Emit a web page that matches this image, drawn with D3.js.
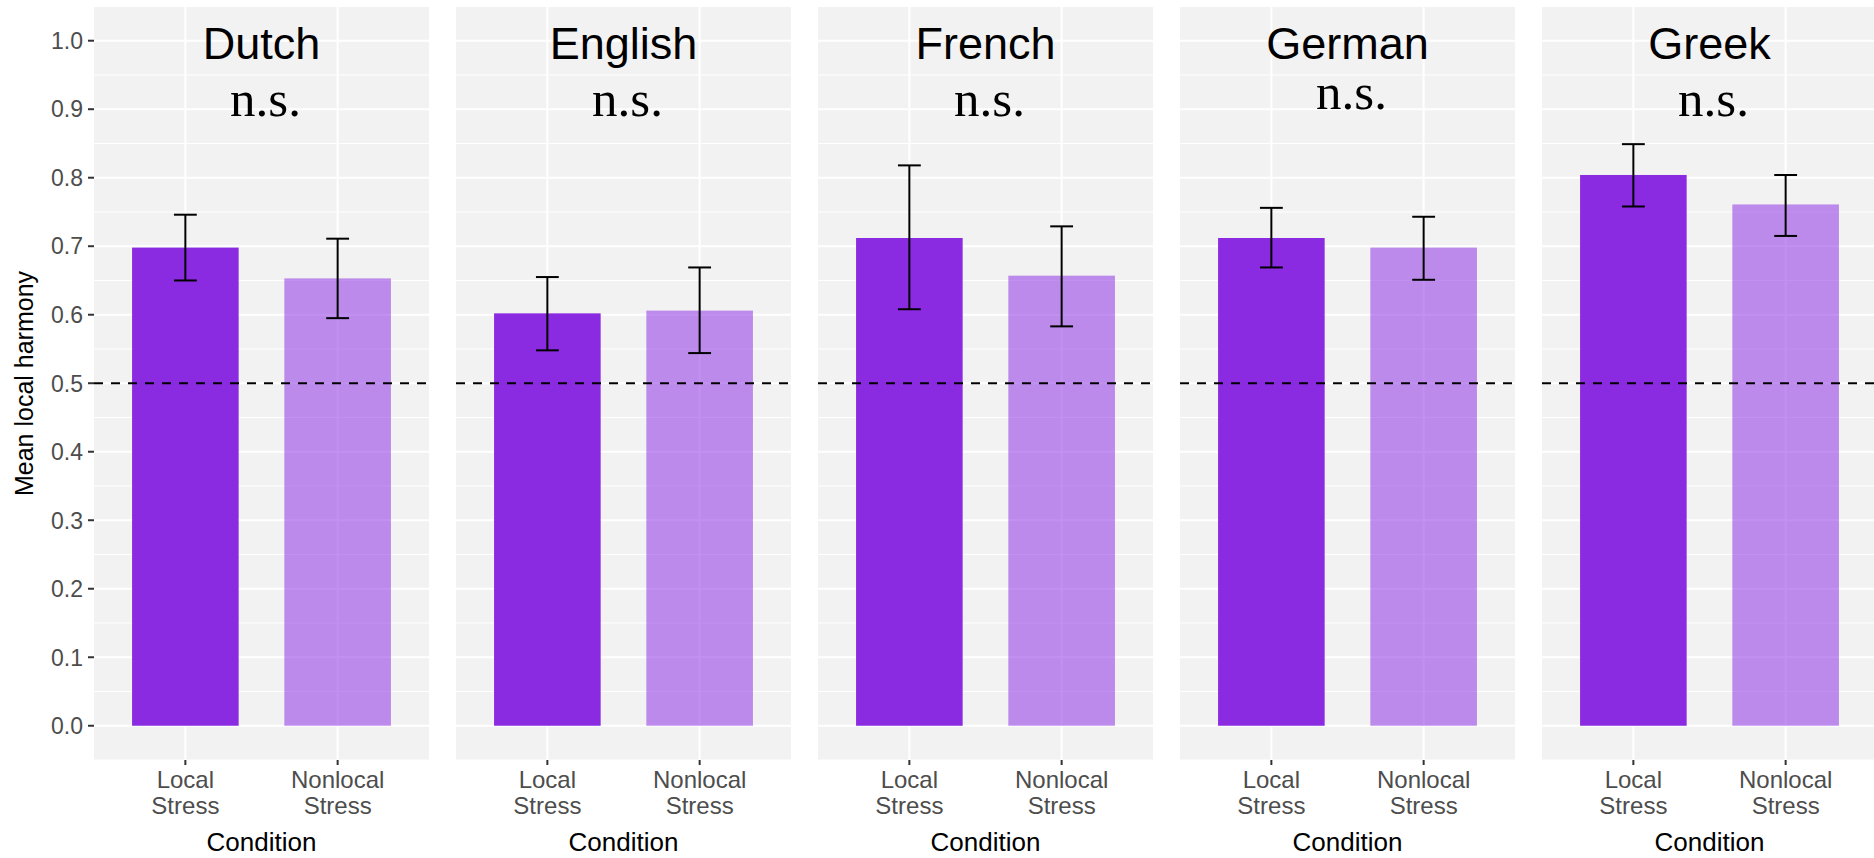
<!DOCTYPE html>
<html>
<head>
<meta charset="utf-8">
<script src="https://cdn.jsdelivr.net/npm/d3@7"></script>
<style>
  html, body { margin: 0; padding: 0; background: #ffffff; }
  svg { display: block; }
</style>
</head>
<body>
<svg id="chart" width="1874" height="858"></svg>
<script>
// ---- data ----
const languages = ["Dutch", "English", "French", "German", "Greek"];
const conditions = ["Local Stress", "Nonlocal Stress"];
const conditionLines = [["Local", "Stress"], ["Nonlocal", "Stress"]];
const localMean  = [0.698, 0.602, 0.712, 0.712, 0.804];
const localLow   = [0.650, 0.548, 0.608, 0.669, 0.758];
const localHigh  = [0.746, 0.655, 0.818, 0.756, 0.849];
const nonlocalMean = [0.653, 0.606, 0.657, 0.698, 0.761];
const nonlocalLow  = [0.595, 0.544, 0.583, 0.651, 0.715];
const nonlocalHigh = [0.711, 0.669, 0.729, 0.743, 0.804];
const sigLabels = ["n.s.", "n.s.", "n.s.", "n.s.", "n.s."];
const sigY = [0.890, 0.890, 0.890, 0.900, 0.890];
const titleY = 0.974;
const chanceLevel = 0.5;
const yTicks = [0, 0.1, 0.2, 0.3, 0.4, 0.5, 0.6, 0.7, 0.8, 0.9, 1.0];
const yMinor = [-0.05, 0.05, 0.15, 0.25, 0.35, 0.45, 0.55, 0.65, 0.75, 0.85, 0.95];
const yLabel = "Mean local harmony";
const xLabel = "Condition";

// ---- layout ----
const svg = d3.select("#chart");
const panelTop = 7, panelBottom = 760;
const firstLeft = 94, panelW = 335, panelGap = 27;
const colors = {local: "#8A2BE2", nonlocal: "#8A2BE2"};
const alphas = {local: 1, nonlocal: 0.52};

const y = d3.scaleLinear().domain([-0.05, 1.0492]).range([panelBottom, panelTop]);

const rows = languages.map((lang, i) => ({
  lang, i,
  bars: [
    {cond: conditions[0], key: "local", mean: localMean[i], lo: localLow[i], hi: localHigh[i], pos: 1},
    {cond: conditions[1], key: "nonlocal", mean: nonlocalMean[i], lo: nonlocalLow[i], hi: nonlocalHigh[i], pos: 2}
  ]
}));

rows.forEach(row => {
  const x0 = firstLeft + row.i * (panelW + panelGap);
  const x = d3.scaleLinear().domain([0.4, 2.6]).range([x0, x0 + panelW]);
  const g = svg.append("g");

  g.append("rect").attr("x", x0).attr("y", panelTop)
    .attr("width", panelW).attr("height", panelBottom - panelTop)
    .attr("fill", "#F2F2F2");

  // grid
  g.selectAll(".minor").data(yMinor).join("line")
    .attr("x1", x0).attr("x2", x0 + panelW)
    .attr("y1", d => y(d)).attr("y2", d => y(d))
    .attr("stroke", "#ffffff").attr("stroke-width", 1);
  g.selectAll(".major").data(yTicks).join("line")
    .attr("x1", x0).attr("x2", x0 + panelW)
    .attr("y1", d => y(d)).attr("y2", d => y(d))
    .attr("stroke", "#ffffff").attr("stroke-width", 2);
  g.selectAll(".vmajor").data([1, 2]).join("line")
    .attr("x1", d => x(d)).attr("x2", d => x(d))
    .attr("y1", panelTop).attr("y2", panelBottom)
    .attr("stroke", "#ffffff").attr("stroke-width", 2);

  // bars
  g.selectAll(".bar").data(row.bars).join("rect")
    .attr("x", d => x(d.pos - 0.35))
    .attr("width", d => x(d.pos + 0.35) - x(d.pos - 0.35))
    .attr("y", d => y(d.mean))
    .attr("height", d => y(0) - y(d.mean))
    .attr("fill", d => colors[d.key])
    .attr("fill-opacity", d => alphas[d.key]);

  // error bars
  const eb = g.selectAll(".eb").data(row.bars).join("g");
  eb.append("line")
    .attr("x1", d => x(d.pos)).attr("x2", d => x(d.pos))
    .attr("y1", d => y(d.lo)).attr("y2", d => y(d.hi))
    .attr("stroke", "#000").attr("stroke-width", 2);
  eb.append("line")
    .attr("x1", d => x(d.pos - 0.075)).attr("x2", d => x(d.pos + 0.075))
    .attr("y1", d => y(d.lo)).attr("y2", d => y(d.lo))
    .attr("stroke", "#000").attr("stroke-width", 2);
  eb.append("line")
    .attr("x1", d => x(d.pos - 0.075)).attr("x2", d => x(d.pos + 0.075))
    .attr("y1", d => y(d.hi)).attr("y2", d => y(d.hi))
    .attr("stroke", "#000").attr("stroke-width", 2);

  // chance line
  g.append("line")
    .attr("x1", x0).attr("x2", x0 + panelW)
    .attr("y1", y(chanceLevel)).attr("y2", y(chanceLevel))
    .attr("stroke", "#000").attr("stroke-width", 2)
    .attr("stroke-dasharray", "9,8");

  // facet title + significance
  g.append("text")
    .attr("x", x(1.5)).attr("y", y(titleY))
    .attr("text-anchor", "middle")
    .attr("font-family", "Liberation Sans, Arial, sans-serif")
    .attr("font-size", 45).attr("fill", "#000")
    .text(row.lang);
  g.append("text")
    .attr("x", x(1.5) + 4).attr("y", y(sigY[row.i]))
    .attr("text-anchor", "middle")
    .attr("font-family", "Liberation Serif, Times New Roman, serif")
    .attr("font-size", 51).attr("fill", "#000")
    .text(sigLabels[row.i]);

  // x axis
  const xa = g.selectAll(".xt").data(row.bars).join("g")
    .attr("transform", d => `translate(${x(d.pos)},0)`);
  xa.append("line").attr("y1", panelBottom).attr("y2", panelBottom + 5)
    .attr("stroke", "#333").attr("stroke-width", 2);
  xa.each(function(d) {
    const t = d3.select(this).append("text")
      .attr("text-anchor", "middle")
      .attr("font-family", "Liberation Sans, Arial, sans-serif")
      .attr("font-size", 24).attr("fill", "#4D4D4D");
    conditionLines[d.pos - 1].forEach((ln, k) => {
      t.append("tspan").attr("x", 0).attr("y", 788 + k * 25.5).text(ln);
    });
  });
  g.append("text")
    .attr("x", x(1.5)).attr("y", 851)
    .attr("text-anchor", "middle")
    .attr("font-family", "Liberation Sans, Arial, sans-serif")
    .attr("font-size", 26).attr("fill", "#000")
    .text(xLabel);
});

// y axis (first panel only)
const ya = svg.append("g");
ya.selectAll("line").data(yTicks).join("line")
  .attr("x1", 88).attr("x2", 94)
  .attr("y1", d => y(d)).attr("y2", d => y(d))
  .attr("stroke", "#333").attr("stroke-width", 2);
ya.selectAll("text").data(yTicks).join("text")
  .attr("x", 83).attr("y", d => y(d))
  .attr("dy", "0.36em")
  .attr("text-anchor", "end")
  .attr("font-family", "Liberation Sans, Arial, sans-serif")
  .attr("font-size", 23).attr("fill", "#4D4D4D")
  .text(d => d3.format(".1f")(d));

svg.append("text")
  .attr("transform", `translate(${33},${(panelTop + panelBottom) / 2}) rotate(-90)`)
  .attr("text-anchor", "middle")
  .attr("font-family", "Liberation Sans, Arial, sans-serif")
  .attr("font-size", 25).attr("fill", "#000")
  .text(yLabel);
</script>
</body>
</html>
